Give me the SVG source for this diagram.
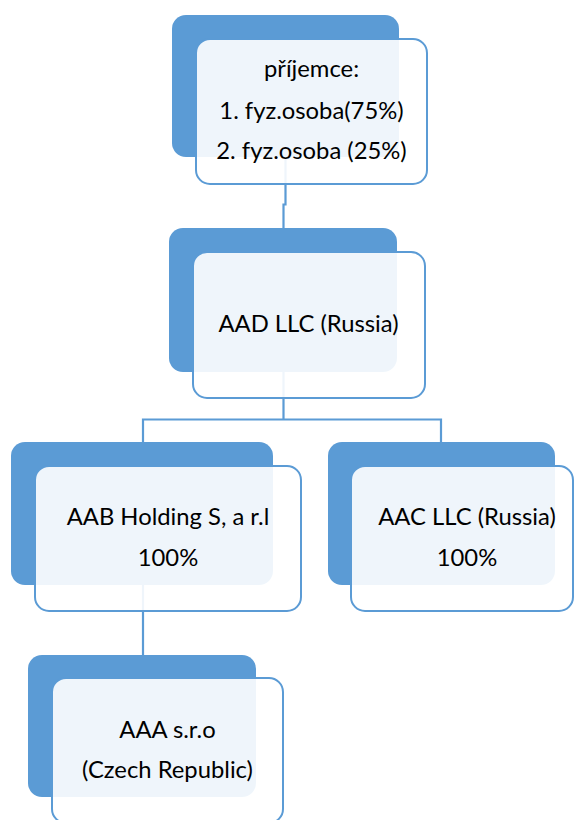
<svg xmlns="http://www.w3.org/2000/svg" width="574" height="820" viewBox="0 0 574 820">
<style>
.back{fill:#5B9BD5;}
.front{fill:#FFFFFF;fill-opacity:0.9;stroke:#5B9BD5;stroke-width:2;}
.conn{fill:none;stroke:#5B9BD5;stroke-width:2.2;}
.t{font-family:Lato,"Open Sans",sans-serif;font-size:23.8px;fill:#000;text-anchor:middle;}
</style>
<rect width="574" height="820" fill="#FFFFFF"/>
<g id="connectors">
<path class="conn" d="M285.5,158 V204.5 H283.5 V230"/>
<path class="conn" d="M283.5,372 V419.5 H143 V443 M283.5,419.5 H441 V443"/>
<path class="conn" d="M143,585 V656"/>
</g>
<g id="prijemce">
<rect class="back" x="172" y="15" width="227" height="142" rx="14"/>
<rect class="front" x="196" y="39" width="231" height="145" rx="14"/>
<text class="t" x="311.5" y="77">příjemce:</text>
<text class="t" x="311.5" y="119">1. fyz.osoba(75%)</text>
<text class="t" x="311.5" y="159">2. fyz.osoba (25%)</text>
</g>
<g id="aad">
<rect class="back" x="169" y="228" width="228" height="144" rx="14"/>
<rect class="front" x="193" y="252" width="232" height="146" rx="14"/>
<text class="t" x="308.5" y="332">AAD LLC (Russia)</text>
</g>
<g id="aab">
<rect class="back" x="11" y="442" width="262" height="143" rx="14"/>
<rect class="front" x="35" y="466" width="266" height="145" rx="14"/>
<text class="t" x="168" y="525">AAB Holding S, a r.l</text>
<text class="t" x="168" y="566">100%</text>
</g>
<g id="aac">
<rect class="back" x="328" y="442" width="227" height="143" rx="14"/>
<rect class="front" x="351" y="466" width="222" height="145" rx="14"/>
<text class="t" x="467" y="525">AAC LLC (Russia)</text>
<text class="t" x="467" y="566">100%</text>
</g>
<g id="aaa">
<rect class="back" x="28" y="655" width="228" height="142" rx="14"/>
<rect class="front" x="52" y="678" width="231" height="145" rx="14"/>
<text class="t" x="167.5" y="738">AAA s.r.o</text>
<text class="t" x="167.5" y="778">(Czech Republic)</text>
</g>
</svg>
